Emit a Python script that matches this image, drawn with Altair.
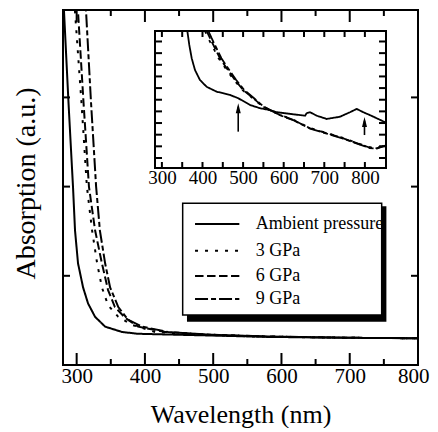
import altair as alt
import pandas as pd

FONT = "Liberation Serif"

# ---------------- main spectra (wavelength nm, absorption a.u.) ----------------
series_names = ["Ambient pressure", "3 GPa", "6 GPa", "9 GPa"]
series_dash = [[1, 0], [3, 7], [8.5, 3.5], [13, 3, 5, 3]]

amb_x = [279.5, 281.5, 288, 294.7, 297.6, 302, 309.4, 316.7, 327, 341.7, 366.6, 390, 444, 500, 580, 700, 800]
amb_y = [4.25, 3.96, 2.95, 1.99, 1.51, 1.14, 0.87, 0.69, 0.54, 0.43, 0.37, 0.35, 0.34, 0.33, 0.315, 0.305, 0.30]

p3_x = [296, 297.6, 307, 315, 322.6, 330, 337, 346, 361, 381, 415, 481, 560, 700, 800]
p3_y = [4.2, 3.96, 2.95, 2.0, 1.51, 1.14, 0.87, 0.67, 0.54, 0.45, 0.37, 0.34, 0.32, 0.305, 0.30]

p6_x = [300.5, 302, 310, 318, 327, 337, 346, 356, 371, 390, 430, 496, 580, 700, 800]
p6_y = [4.2, 3.96, 2.95, 2.0, 1.51, 1.14, 0.84, 0.65, 0.53, 0.43, 0.37, 0.34, 0.32, 0.305, 0.30]

p9_x = [312.5, 313.8, 321, 328.5, 334, 341.7, 349, 361, 375, 396, 434, 496, 580, 700, 800]
p9_y = [4.2, 3.96, 2.95, 2.0, 1.51, 1.14, 0.87, 0.65, 0.51, 0.43, 0.37, 0.34, 0.32, 0.305, 0.30]

# ---------------- inset spectra ----------------
ia_x = [362.6, 367.5, 373.4, 381.5, 393.8, 410.3, 435, 467.7, 488, 517, 541.6, 566, 582.7, 623.6,
        652.5, 656.6, 664.8, 681.3, 706, 738.7, 763.3, 779.8, 796, 820.7, 849.5, 852]
ia_y = [11.9, 10.70, 9.56, 8.55, 7.69, 7.11, 6.69, 6.41, 6.13, 5.55, 5.27, 5.11, 4.93, 4.75,
        4.63, 4.84, 4.93, 4.63, 4.35, 4.54, 4.93, 5.21, 4.93, 4.55, 4.07, 4.03]

i3_x = [406, 414, 427, 439.5, 456.5, 477.5, 498.5, 523.5, 549, 566, 591, 624, 665, 706, 747, 788, 812, 829, 852]
i3_y = [11.9, 11.28, 10.42, 9.56, 8.70, 7.69, 6.83, 6.13, 5.40, 5.11, 4.71, 4.28, 3.58, 3.15, 2.72, 2.20, 1.92, 1.86, 2.15]

i6_x = [410.3, 418.5, 430.8, 443, 459.6, 480, 500.5, 525, 549.7, 566, 590.9, 623.6, 664.8, 706, 746.8, 788, 812.6, 829, 852]
i6_y = [11.9, 11.28, 10.42, 9.56, 8.70, 7.69, 6.83, 6.13, 5.40, 5.11, 4.69, 4.26, 3.55, 3.12, 2.69, 2.17, 1.88, 1.83, 2.12]

i9_x = [414.5, 422.5, 434.5, 446.5, 463, 483, 503, 527, 551, 567, 591, 624, 665, 706, 747, 788, 812, 829, 852]
i9_y = [11.9, 11.28, 10.42, 9.56, 8.70, 7.69, 6.83, 6.13, 5.40, 5.11, 4.67, 4.24, 3.52, 3.09, 2.66, 2.14, 1.85, 1.80, 2.09]

arrow_x = [488, 799]
arrow_tail = [3.26, 2.97]
arrow_tip = [5.40, 4.20]
arrow_head = [5.26, 4.08]

# ---------------- ticks ----------------
main_major = [300, 400, 500, 600, 700, 800]
main_minor = [350, 450, 550, 650, 750]
main_yticks = [1, 2, 3]
inset_xlabels = [300, 400, 500, 600, 700, 800]
inset_xticks = [300, 350, 400, 450, 500, 550, 600, 650, 700, 750, 800]
inset_yticks = [1, 2, 3, 4, 5, 6, 7, 8, 9, 10, 11]

# ---------------- legend (data units of main plot) ----------------
legend_row_y = [1.581, 1.281, 0.998, 0.740]
legend_sample_x = [473.4, 538.3]
legend_text_x = 562.5
legend_box = [455.3, 746.8, 0.561, 1.813]
legend_shadow = [461.6, 753.7, 0.485, 1.780]

W, H = 355, 355
XM = dict(domain=[280, 800], nice=False, zero=False)
YM = dict(domain=[0, 3.98], nice=False, zero=False)
XI = dict(domain=[283, 852], range=[92, 323], nice=False, zero=False)
YI = dict(domain=[0.14, 11.9], range=[158, 21], nice=False, zero=False)

# pixel lengths of the inward ticks converted to data units
px_main_x = (XM["domain"][1] - XM["domain"][0]) / W
px_main_y = (YM["domain"][1] - YM["domain"][0]) / H
px_in_x = (XI["domain"][1] - XI["domain"][0]) / (XI["range"][1] - XI["range"][0])
px_in_y = (YI["domain"][1] - YI["domain"][0]) / (YI["range"][0] - YI["range"][1])


def long(xs, ys, name):
    return pd.DataFrame({"nm": xs, "v": ys, "series": name, "idx": range(len(xs))})


main_df = pd.concat([long(amb_x, amb_y, series_names[0]), long(p3_x, p3_y, series_names[1]),
                     long(p6_x, p6_y, series_names[2]), long(p9_x, p9_y, series_names[3])])
inset_df = pd.concat([long(ia_x, ia_y, series_names[0]), long(i3_x, i3_y, series_names[1]),
                      long(i6_x, i6_y, series_names[2]), long(i9_x, i9_y, series_names[3])])


def tick_rows(xdom, ydom, xt_major, xt_minor, yt, lx_major, lx_minor, ly):
    rows = []
    x0, x1 = xdom
    y0, y1 = ydom
    for t, L in [(t, lx_major) for t in xt_major] + [(t, lx_minor) for t in xt_minor]:
        rows.append(dict(x=t, x2=t, y=y0, y2=y0 + L))
        rows.append(dict(x=t, x2=t, y=y1, y2=y1 - L))
    for t in yt:
        rows.append(dict(x=x0, x2=x0 + ly, y=t, y2=t))
        rows.append(dict(x=x1, x2=x1 - ly, y=t, y2=t))
    return pd.DataFrame(rows)


main_ticks_df = tick_rows(XM["domain"], YM["domain"], main_major, main_minor, main_yticks,
                          12 * px_main_y, 6 * px_main_y, 7 * px_main_x)
inset_ticks_df = tick_rows(XI["domain"], YI["domain"], inset_xticks, [], inset_yticks,
                           6 * px_in_y, 6 * px_in_y, 7 * px_in_x)

dash_scale = alt.Scale(domain=series_names, range=series_dash)
lab = dict(labelFont=FONT, labelColor="black", labelOverlap=False, grid=False, domain=False)

main = alt.Chart(main_df).mark_line(clip=True, strokeWidth=2, color="black").encode(
    x=alt.X("nm:Q", scale=alt.Scale(**XM),
            axis=alt.Axis(orient="bottom", values=main_major, ticks=False, tickSize=0, labelFontSize=21,
                          labelPadding=0, labelFlush=1, labelFlushOffset=11,
                          title="Wavelength (nm)", titleFont=FONT, titleFontSize=26,
                          titleFontWeight="normal", titleColor="black", titleY=57,
                          titleBaseline="alphabetic", **lab)),
    y=alt.Y("v:Q", scale=alt.Scale(**YM),
            axis=alt.Axis(orient="left", labels=False, ticks=False, domain=False, grid=False,
                          title="Absorption (a.u.)", titleFont=FONT, titleFontSize=28,
                          titleFontWeight="normal", titleColor="black", titleX=-29, titleY=173,
                          titleBaseline="alphabetic")),
    strokeDash=alt.StrokeDash("series:N", scale=dash_scale, legend=None),
    detail="series:N",
    order="idx:Q",
)

main_ticks = alt.Chart(main_ticks_df).mark_rule(strokeWidth=2, color="black").encode(
    x=alt.X("x:Q", scale=alt.Scale(**XM), axis=None), x2="x2:Q",
    y=alt.Y("y:Q", scale=alt.Scale(**YM), axis=None), y2="y2:Q")

# legend box with drop shadow
shadow_df = pd.DataFrame({"x": [legend_shadow[0]], "x2": [legend_shadow[1]],
                          "y": [legend_shadow[2]], "y2": [legend_shadow[3]]})
box_df = pd.DataFrame({"x": [legend_box[0]], "x2": [legend_box[1]],
                       "y": [legend_box[2]], "y2": [legend_box[3]]})
shadow = alt.Chart(shadow_df).mark_rect(color="black").encode(
    x=alt.X("x:Q", scale=alt.Scale(**XM), axis=None), x2="x2:Q",
    y=alt.Y("y:Q", scale=alt.Scale(**YM), axis=None), y2="y2:Q")
box = alt.Chart(box_df).mark_rect(fill="white", stroke="black", strokeWidth=1.5).encode(
    x=alt.X("x:Q", scale=alt.Scale(**XM), axis=None), x2="x2:Q",
    y=alt.Y("y:Q", scale=alt.Scale(**YM), axis=None), y2="y2:Q")

leg_df = pd.DataFrame({"series": series_names, "y": legend_row_y,
                       "x": legend_sample_x[0], "x2": legend_sample_x[1], "tx": legend_text_x})
leg_lines = alt.Chart(leg_df).mark_rule(strokeWidth=2.2, color="black").encode(
    x=alt.X("x:Q", scale=alt.Scale(**XM), axis=None), x2="x2:Q",
    y=alt.Y("y:Q", scale=alt.Scale(**YM), axis=None),
    strokeDash=alt.StrokeDash("series:N", scale=dash_scale, legend=None))
leg_text = alt.Chart(leg_df).mark_text(font=FONT, fontSize=18, align="left", baseline="middle",
                                       color="black").encode(
    x=alt.X("tx:Q", scale=alt.Scale(**XM), axis=None),
    y=alt.Y("y:Q", scale=alt.Scale(**YM), axis=None),
    text="series:N")

# inset
frame_df = pd.DataFrame({"x": [XI["domain"][0]], "x2": [XI["domain"][1]],
                         "y": [YI["domain"][0]], "y2": [YI["domain"][1]]})
inset_frame = alt.Chart(frame_df).mark_rect(fill="white", stroke="black", strokeWidth=2).encode(
    x=alt.X("x:Q", scale=alt.Scale(**XI), axis=None), x2="x2:Q",
    y=alt.Y("y:Q", scale=alt.Scale(**YI), axis=None), y2="y2:Q")

inset_lines = alt.Chart(inset_df).mark_line(strokeWidth=1.8, color="black").encode(
    x=alt.X("nm:Q", scale=alt.Scale(**XI),
            axis=alt.Axis(orient="bottom", offset=158 - H, values=inset_xlabels, ticks=False, tickSize=0,
                          labelFontSize=19, labelPadding=0, labelFlush=False, title=None, **lab)),
    y=alt.Y("v:Q", scale=alt.Scale(**YI), axis=None),
    strokeDash=alt.StrokeDash("series:N", scale=dash_scale, legend=None),
    detail="series:N",
    order="idx:Q",
)

inset_ticks = alt.Chart(inset_ticks_df).mark_rule(strokeWidth=2, color="black").encode(
    x=alt.X("x:Q", scale=alt.Scale(**XI), axis=None), x2="x2:Q",
    y=alt.Y("y:Q", scale=alt.Scale(**YI), axis=None), y2="y2:Q")

arr_df = pd.DataFrame({"x": arrow_x, "y": arrow_tail, "y2": arrow_tip, "h": arrow_head})
arr_shaft = alt.Chart(arr_df).mark_rule(strokeWidth=1.6, color="black").encode(
    x=alt.X("x:Q", scale=alt.Scale(**XI), axis=None),
    y=alt.Y("y:Q", scale=alt.Scale(**YI), axis=None), y2="y2:Q")
arr_head = alt.Chart(arr_df).mark_point(shape="M0,-1L0.5,1L-0.5,1Z", filled=True, size=100,
                                        color="black", opacity=1).encode(
    x=alt.X("x:Q", scale=alt.Scale(**XI), axis=None),
    y=alt.Y("h:Q", scale=alt.Scale(**YI), axis=None))

chart = alt.layer(
    main, main_ticks, shadow, box, leg_lines, leg_text, inset_frame, inset_lines, inset_ticks,
    arr_shaft, arr_head
).resolve_scale(x="independent", y="independent").properties(
    width=W, height=H,
    autosize=alt.AutoSizeParams(type="none"),
    padding={"left": 55, "top": 2, "right": 12, "bottom": 63},
    background="white",
).configure_view(stroke="black", strokeWidth=2)

chart.save("out.html", embed_options={"renderer": "svg", "actions": False})
